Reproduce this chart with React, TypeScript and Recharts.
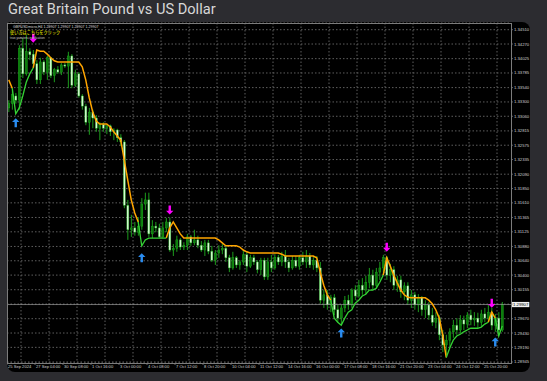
import { ComposedChart, Bar, Line, XAxis, YAxis, CartesianGrid, ReferenceLine } from 'recharts';

// GBPUSD H4, 25 Sep – 25 Oct 2024
const openP = [
  1.3320, 1.3327, 1.3340, 1.3333, 1.3420, 1.3377, 1.3414, 1.3410, 1.3394, 1.3367,
  1.3397, 1.3380, 1.3404, 1.3374, 1.3384, 1.3380, 1.3392, 1.3390, 1.3407, 1.3358,
  1.3377, 1.3340, 1.3323, 1.3296, 1.3313, 1.3303, 1.3286, 1.3292, 1.3286, 1.3290,
  1.3280, 1.3283, 1.3270, 1.3263, 1.3157, 1.3116, 1.3119, 1.3112, 1.3122, 1.3159,
  1.3166, 1.3109, 1.3122, 1.3119, 1.3104, 1.3119, 1.3129, 1.3082, 1.3085, 1.3099,
  1.3087, 1.3090, 1.3104, 1.3094, 1.3099, 1.3090, 1.3082, 1.3094, 1.3080, 1.3065,
  1.3077, 1.3082, 1.3085, 1.3069, 1.3052, 1.3069, 1.3057, 1.3062, 1.3074, 1.3055,
  1.3069, 1.3062, 1.3049, 1.3065, 1.3037, 1.3062, 1.3052, 1.3070, 1.3062, 1.3072,
  1.3062, 1.3052, 1.3065, 1.3055, 1.3069, 1.3062, 1.3072, 1.3057, 1.3065, 1.3052,
  1.2998, 1.3007, 1.2990, 1.3002, 1.2982, 1.2968, 1.2985, 1.2998, 1.2990, 1.3015,
  1.3005, 1.3023, 1.3015, 1.3028, 1.3040, 1.3023, 1.3045, 1.3052, 1.3069, 1.3040,
  1.3049, 1.3023, 1.3032, 1.3012, 1.3022, 1.2998, 1.3007, 1.2990, 1.3002, 1.2982,
  1.2990, 1.2973, 1.2961, 1.2968, 1.2940, 1.2923, 1.2931, 1.2945, 1.2956, 1.2948,
  1.2965, 1.2958, 1.2973, 1.2965, 1.2968, 1.2961, 1.2975, 1.2968, 1.2978, 1.2956,
  1.2968, 1.2948,
];
const highP = [
  1.3333, 1.3350, 1.3345, 1.3425, 1.3437, 1.3442, 1.3420, 1.3417, 1.3400, 1.3404,
  1.3400, 1.3407, 1.3405, 1.3387, 1.3390, 1.3395, 1.3395, 1.3414, 1.3410, 1.3384,
  1.3380, 1.3343, 1.3327, 1.3320, 1.3317, 1.3308, 1.3296, 1.3296, 1.3292, 1.3292,
  1.3286, 1.3285, 1.3276, 1.3266, 1.3166, 1.3141, 1.3129, 1.3137, 1.3169, 1.3178,
  1.3178, 1.3132, 1.3129, 1.3126, 1.3129, 1.3136, 1.3136, 1.3092, 1.3106, 1.3102,
  1.3095, 1.3109, 1.3107, 1.3116, 1.3106, 1.3097, 1.3099, 1.3099, 1.3089, 1.3082,
  1.3090, 1.3092, 1.3089, 1.3074, 1.3079, 1.3072, 1.3065, 1.3082, 1.3079, 1.3074,
  1.3074, 1.3065, 1.3069, 1.3069, 1.3069, 1.3074, 1.3075, 1.3074, 1.3079, 1.3082,
  1.3069, 1.3072, 1.3072, 1.3074, 1.3079, 1.3082, 1.3077, 1.3072, 1.3072, 1.3062,
  1.3015, 1.3015, 1.3007, 1.3008, 1.2990, 1.2990, 1.3005, 1.3007, 1.3018, 1.3023,
  1.3032, 1.3035, 1.3039, 1.3052, 1.3049, 1.3052, 1.3062, 1.3074, 1.3072, 1.3059,
  1.3055, 1.3039, 1.3039, 1.3028, 1.3028, 1.3015, 1.3012, 1.3008, 1.3005, 1.2998,
  1.2995, 1.2985, 1.2978, 1.2973, 1.2948, 1.2940, 1.2951, 1.2965, 1.2968, 1.2973,
  1.2972, 1.2978, 1.2982, 1.2978, 1.2977, 1.2982, 1.2985, 1.2990, 1.2985, 1.2975,
  1.2978, 1.2995,
];
const lowP = [
  1.3313, 1.3317, 1.3327, 1.3317, 1.3370, 1.3374, 1.3400, 1.3387, 1.3360, 1.3360,
  1.3375, 1.3367, 1.3370, 1.3363, 1.3377, 1.3375, 1.3387, 1.3353, 1.3353, 1.3355,
  1.3337, 1.3317, 1.3291, 1.3275, 1.3286, 1.3280, 1.3266, 1.3280, 1.3276, 1.3273,
  1.3266, 1.3263, 1.3256, 1.3152, 1.3099, 1.3104, 1.3106, 1.3106, 1.3116, 1.3149,
  1.3104, 1.3102, 1.3112, 1.3102, 1.3102, 1.3112, 1.3079, 1.3072, 1.3079, 1.3082,
  1.3082, 1.3082, 1.3089, 1.3090, 1.3085, 1.3079, 1.3072, 1.3075, 1.3062, 1.3057,
  1.3069, 1.3075, 1.3062, 1.3045, 1.3049, 1.3052, 1.3049, 1.3057, 1.3045, 1.3052,
  1.3057, 1.3043, 1.3040, 1.3032, 1.3032, 1.3045, 1.3049, 1.3057, 1.3055, 1.3052,
  1.3045, 1.3049, 1.3052, 1.3049, 1.3057, 1.3052, 1.3052, 1.3049, 1.3045, 1.2992,
  1.2985, 1.2982, 1.2978, 1.2973, 1.2961, 1.2958, 1.2978, 1.2982, 1.2985, 1.2998,
  1.3002, 1.3007, 1.3008, 1.3018, 1.3015, 1.3018, 1.3032, 1.3040, 1.3032, 1.3028,
  1.3015, 1.3012, 1.3002, 1.2998, 1.2990, 1.2985, 1.2982, 1.2978, 1.2972, 1.2968,
  1.2965, 1.2955, 1.2951, 1.2931, 1.2911, 1.2906, 1.2918, 1.2935, 1.2940, 1.2943,
  1.2948, 1.2951, 1.2956, 1.2955, 1.2951, 1.2955, 1.2961, 1.2961, 1.2948, 1.2945,
  1.2941, 1.2945,
];
const closeP = [
  1.3327, 1.3342, 1.3333, 1.3420, 1.3377, 1.3414, 1.3409, 1.3394, 1.3367, 1.3397,
  1.3380, 1.3404, 1.3374, 1.3384, 1.3380, 1.3392, 1.3390, 1.3407, 1.3358, 1.3377,
  1.3340, 1.3323, 1.3296, 1.3313, 1.3303, 1.3286, 1.3292, 1.3286, 1.3290, 1.3280,
  1.3283, 1.3270, 1.3263, 1.3157, 1.3116, 1.3119, 1.3112, 1.3122, 1.3159, 1.3166,
  1.3109, 1.3122, 1.3119, 1.3104, 1.3119, 1.3129, 1.3082, 1.3085, 1.3099, 1.3087,
  1.3090, 1.3104, 1.3094, 1.3099, 1.3090, 1.3082, 1.3094, 1.3080, 1.3065, 1.3077,
  1.3082, 1.3085, 1.3069, 1.3052, 1.3069, 1.3057, 1.3062, 1.3074, 1.3055, 1.3069,
  1.3062, 1.3049, 1.3065, 1.3037, 1.3062, 1.3052, 1.3070, 1.3062, 1.3072, 1.3062,
  1.3052, 1.3065, 1.3055, 1.3069, 1.3062, 1.3072, 1.3057, 1.3065, 1.3052, 1.2998,
  1.3007, 1.2990, 1.3002, 1.2982, 1.2968, 1.2985, 1.2998, 1.2990, 1.3015, 1.3005,
  1.3023, 1.3015, 1.3028, 1.3040, 1.3023, 1.3045, 1.3052, 1.3069, 1.3040, 1.3049,
  1.3023, 1.3032, 1.3012, 1.3022, 1.2998, 1.3007, 1.2990, 1.3002, 1.2982, 1.2990,
  1.2973, 1.2961, 1.2968, 1.2940, 1.2923, 1.2931, 1.2945, 1.2956, 1.2948, 1.2965,
  1.2958, 1.2973, 1.2965, 1.2968, 1.2961, 1.2975, 1.2968, 1.2978, 1.2956, 1.2968,
  1.2948, 1.29907,
];

// trailing stop indicator: orange while price is under it, green while above
const resistSegs = [
  { from: 0, values: [1.3367, 1.3353] },
  { from: 7, values: [
    1.3387, 1.3417, 1.3415, 1.3415, 1.3410, 1.3404, 1.3399, 1.3397, 1.3397, 1.3397,
    1.3397, 1.3397, 1.3397, 1.3397, 1.3389, 1.3367, 1.3337, 1.3313, 1.3298, 1.3293,
    1.3293, 1.3293, 1.3288, 1.3280, 1.3273, 1.3266, 1.3233, 1.3199, 1.3166, 1.3144,
    1.3129,
  ] },
  { from: 45, values: [
    1.3102, 1.3119, 1.3129, 1.3119, 1.3109, 1.3102, 1.3102, 1.3102, 1.3102, 1.3102,
    1.3102, 1.3102, 1.3102, 1.3102, 1.3102, 1.3099, 1.3094, 1.3089, 1.3089, 1.3089,
    1.3089, 1.3087, 1.3082, 1.3079, 1.3077, 1.3077, 1.3077, 1.3077, 1.3077, 1.3077,
    1.3077, 1.3077, 1.3077, 1.3075, 1.3072, 1.3072, 1.3072, 1.3072, 1.3072, 1.3072,
    1.3072, 1.3072, 1.3072, 1.3069, 1.3045, 1.3023, 1.3007, 1.2998,
  ] },
  { from: 107, values: [
    1.3040, 1.3069, 1.3055, 1.3040, 1.3027, 1.3015, 1.3007, 1.3003, 1.3002, 1.3002,
    1.3002, 1.3002, 1.3002, 1.2998, 1.2992, 1.2982, 1.2968, 1.2940, 1.2902,
  ] },
  { from: 137, values: [1.2961, 1.2978, 1.2968] },
];
const supportSegs = [
  { from: 1, values: [1.3353, 1.3310, 1.3320, 1.3340, 1.3363, 1.3377, 1.3387] },
  { from: 37, values: [1.3129, 1.3089, 1.3099, 1.3102, 1.3102, 1.3102, 1.3102, 1.3102, 1.3102] },
  { from: 92, values: [
    1.2998, 1.2968, 1.2961, 1.2956, 1.2968, 1.2978, 1.2982, 1.2993, 1.2998, 1.3005,
    1.3008, 1.3015, 1.3015, 1.3018, 1.3028, 1.3040,
  ] },
  { from: 125, values: [
    1.2902, 1.2918, 1.2931, 1.2938, 1.2941, 1.2945, 1.2948, 1.2951, 1.2951, 1.2951,
    1.2953, 1.2958, 1.2961,
  ] },
  { from: 139, values: [1.2968, 1.2938, 1.2955] },
];

const buyBars = [2, 38, 95, 139];
const buyPrices = [1.3295, 1.3069, 1.2943, 1.2928];
const sellBars = [7, 46, 108, 138];
const sellPrices = [1.3437, 1.3149, 1.3087, 1.2993];

const labelBars = [0, 8, 16, 24, 32, 40, 48, 56, 64, 72, 80, 88, 96, 104, 112, 120, 128, 136];
const timeLabels = [
  '25 Sep 2024', '27 Sep 04:00', '30 Sep 08:00', '1 Oct 16:00', '3 Oct 00:00', '4 Oct 08:00',
  '7 Oct 12:00', '8 Oct 20:00', '10 Oct 04:00', '11 Oct 12:00', '14 Oct 16:00', '16 Oct 00:00',
  '17 Oct 08:00', '18 Oct 16:00', '21 Oct 20:00', '23 Oct 04:00', '24 Oct 12:00', '25 Oct 20:00',
];
const gridBars = [4, 12, 20, 28, 36, 44, 52, 60, 68, 76, 84, 92, 100, 108, 116, 124, 132, 140];
const priceTicks = [
  1.28945, 1.2919, 1.2943, 1.2967, 1.29915, 1.30155, 1.304, 1.3064, 1.3088, 1.31125,
  1.31365, 1.3161, 1.3185, 1.3209, 1.32335, 1.32575, 1.32815, 1.3306, 1.333, 1.3354,
  1.33785, 1.34025, 1.3427, 1.3451,
];
const hiddenTick = 1.29915;
const lastPrice = 1.29907;
const priceDomain = [1.28928, 1.34622];
const SLOTS = 144;

const WICK = '#1fae1f';
const BULL = '#0c7d0c';
const BEAR = '#d6fbd2';
const AXIS_FONT = "'Liberation Sans', Arial, sans-serif";

const spread = (segs: { from: number; values: number[] }[]) => {
  const out: (number | null)[] = new Array(SLOTS).fill(null);
  segs.forEach((s) => s.values.forEach((v, k) => { out[s.from + k] = v; }));
  return out;
};
const resist = spread(resistSegs);
const support = spread(supportSegs);

const rows = Array.from({ length: SLOTS }, (_, i) => ({
  i,
  open: openP[i] ?? null,
  high: highP[i] ?? null,
  low: lowP[i] ?? null,
  close: closeP[i] ?? null,
  resist: resist[i],
  support: support[i],
  buy: buyBars.includes(i) ? buyPrices[buyBars.indexOf(i)] : null,
  sell: sellBars.includes(i) ? sellPrices[sellBars.indexOf(i)] : null,
}));

function Candle(props: any) {
  const { x, y, width, height, payload } = props;
  if (!payload || payload.open == null || y == null || isNaN(y)) return <g />;
  const { open, close, high, low } = payload;
  const top = Math.min(y, y + height);
  const h = Math.abs(height);
  const span = high - low || 1;
  const toY = (v: number) => top + ((high - v) / span) * h;
  const cx = x + width / 2;
  const bodyTop = toY(Math.max(open, close));
  const bodyBot = toY(Math.min(open, close));
  return (
    <g>
      <line x1={cx} x2={cx} y1={top} y2={top + h} stroke={WICK} strokeWidth={0.9} />
      <rect
        x={cx - 1}
        y={bodyTop}
        width={2}
        height={Math.max(0.8, bodyBot - bodyTop)}
        fill={close >= open ? BULL : BEAR}
        stroke={WICK}
        strokeWidth={0.4}
      />
    </g>
  );
}

function Arrow(props: any) {
  const { cx, cy, value, up, color } = props;
  if (value == null || cx == null || cy == null) return <g key={props.index} />;
  const d = up ? 1 : -1;
  const shape = [[0, -4.6], [3.7, -0.8], [1.2, -0.8], [1.2, 4.4], [-1.2, 4.4], [-1.2, -0.8], [-3.7, -0.8]];
  const pts = shape.map(([px, py]) => `${cx + px},${cy + py * d}`).join(' ');
  return <polygon key={props.index} points={pts} fill={color} />;
}

function PriceTick(props: any) {
  const { x, y, payload } = props;
  if (payload.value === hiddenTick) return <g />;
  return (
    <text x={x} y={y} fontSize={4.2} fill="#cfcfcf" dominantBaseline="central" fontFamily={AXIS_FONT}>
      {Number(payload.value).toFixed(5)}
    </text>
  );
}

function TimeTick(props: any) {
  const { x, y, payload } = props;
  const k = labelBars.indexOf(payload.value);
  const left = x - 1.75;
  return (
    <g>
      <line x1={left} x2={left} y1={y} y2={y + 2} stroke="#8a8a8a" strokeWidth={0.7} />
      <text x={left + 1} y={y + 5.4} fontSize={4.1} fill="#cfcfcf" fontFamily={AXIS_FONT}>
        {k >= 0 ? timeLabels[k] : ''}
      </text>
    </g>
  );
}

function PriceTag(props: any) {
  const vb = props.viewBox;
  if (!vb) return <g />;
  const x = vb.x + vb.width + 0.7;
  return (
    <g>
      <rect x={x} y={vb.y - 2.6} width={17.6} height={5.2} fill="#f0f0f0" />
      <text x={x + 1.4} y={vb.y + 0.2} fontSize={4.2} fill="#000" dominantBaseline="central" fontFamily={AXIS_FONT}>
        {lastPrice.toFixed(5)}
      </text>
    </g>
  );
}

export default function App() {
  return (
    <div style={{ position: 'fixed', left: 0, top: 0, width: 547, height: 381, background: '#2c2c30', overflow: 'hidden' }}>
      <div style={{ position: 'absolute', left: 8, top: 0, fontFamily: 'Roboto, sans-serif', fontSize: 14.6, lineHeight: '18px', color: '#d8d8d8', whiteSpace: 'nowrap' }}>
        Great Britain Pound vs US Dollar
      </div>
      <div style={{ position: 'absolute', left: 7, top: 22, width: 523, height: 350, background: '#000', borderRadius: '0 8px 8px 8px', overflow: 'hidden' }}>
        <ComposedChart width={523} height={350} data={rows} margin={{ top: 1, right: 0, bottom: 0, left: 0 }}>
          <CartesianGrid
            stroke="#5e5e5e"
            strokeDasharray="1.5 2"
            verticalCoordinatesGenerator={({ offset }: any) => gridBars.map((b) => offset.left + (b * offset.width) / SLOTS)}
          />
          <XAxis
            dataKey="i"
            type="category"
            ticks={labelBars}
            interval={0}
            height={9}
            tickSize={0}
            tickMargin={0}
            axisLine={false}
            tickLine={false}
            tick={TimeTick}
          />
          <YAxis
            orientation="right"
            type="number"
            domain={priceDomain}
            ticks={priceTicks}
            interval={0}
            width={19}
            tickSize={2}
            tickMargin={1}
            axisLine={false}
            tickLine={{ stroke: '#8a8a8a', strokeWidth: 0.7 }}
            tick={PriceTick}
            allowDataOverflow
          />
          <ReferenceLine y={lastPrice} stroke="#9a9a9a" strokeWidth={0.7} label={<PriceTag />} />
          <Bar dataKey={(d: any) => (d.high == null ? null : [d.low, d.high])} shape={Candle} isAnimationActive={false} />
          <Line dataKey="resist" type="linear" stroke="#ffa500" strokeWidth={1.5} dot={false} activeDot={false} connectNulls={false} isAnimationActive={false} />
          <Line dataKey="support" type="linear" stroke="#34d234" strokeWidth={1.3} dot={false} activeDot={false} connectNulls={false} isAnimationActive={false} />
          <Line dataKey="buy" stroke="none" dot={(p: any) => <Arrow {...p} up color="#2a8cf0" />} activeDot={false} isAnimationActive={false} />
          <Line dataKey="sell" stroke="none" dot={(p: any) => <Arrow {...p} up={false} color="#ff00ff" />} activeDot={false} isAnimationActive={false} />
        </ComposedChart>
        <div style={{ position: 'absolute', left: 0, top: 1, width: 505, height: 341, boxSizing: 'border-box', border: '1px solid #7c7c7c', pointerEvents: 'none' }} />
        <svg style={{ position: 'absolute', left: 0, top: 0, pointerEvents: 'none' }} width={120} height={24}>
          <text x={6} y={5.6} fontSize={3.6} fill="#dcdcdc" fontFamily={AXIS_FONT}>
            GBPUSDmicro,H4  1.29907 1.29907 1.29907 1.29907
          </text>
          <text x={3} y={12} fontSize={4.2} fill="#ffff00" fontFamily="'Noto Sans CJK JP', sans-serif">
            使い方はこちらをクリック
          </text>
          <text x={3} y={17} fontSize={3.2} fill="#c8c8c8" fontFamily={AXIS_FONT}>
            true,yasuteru,notification
          </text>
        </svg>
      </div>
    </div>
  );
}
